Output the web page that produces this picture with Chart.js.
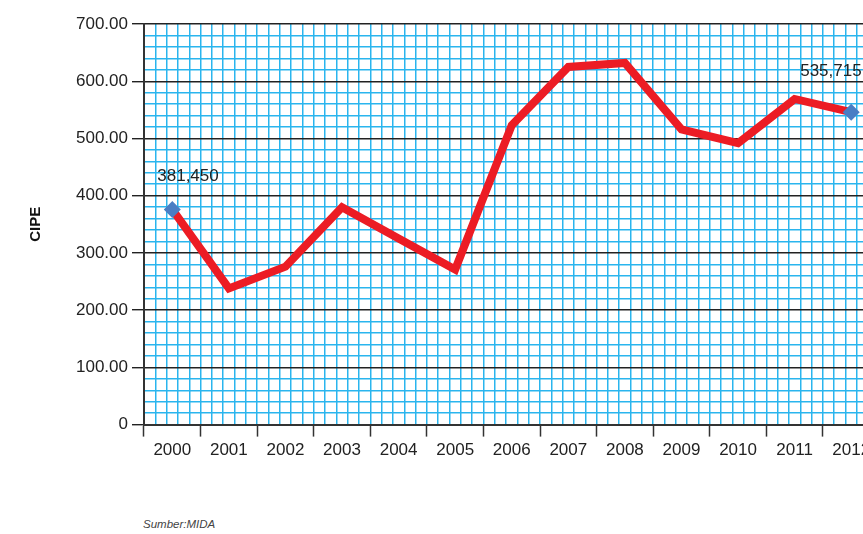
<!DOCTYPE html>
<html lang="ms">
<head>
  <meta charset="UTF-8">
  <title>CIPE 2000-2012</title>
  <script src="https://cdn.jsdelivr.net/npm/chart.js"></script>
  <style>
    html, body { margin: 0; padding: 0; background: #fff; overflow: hidden; }
    .wrap { position: relative; width: 863px; height: 534px; overflow: hidden; }
    .box { position: absolute; left: 0; top: 0; width: 888px; height: 465px; }
    .source {
      position: absolute; left: 143px; top: 518px;
      font-family: "Liberation Sans", Arial, sans-serif; font-style: italic;
      font-size: 11.5px; color: #444;
    }
  </style>
</head>
<body>
  <div class="wrap">
    <div class="box"><canvas id="cipeChart" width="888" height="465"></canvas></div>
    <div class="source">Sumber:MIDA</div>
  </div>

  <script>
    const years = ['2000', '2001', '2002', '2003', '2004', '2005', '2006',
                   '2007', '2008', '2009', '2010', '2011', '2012'];
    const cipe = [376, 238, 276, 380, 325, 271, 523, 625, 632, 516, 492, 569, 546];
    const yTicks = [0, 100, 200, 300, 400, 500, 600, 700];
    const pointLabels = ['381,450', '', '', '', '', '', '', '', '', '', '', '', '535,715'];

    const fontName = '"Liberation Sans", Arial, sans-serif';
    const cyan = '#2ab5ee';

    // text next to the first and last points
    const labelPlugin = {
      id: 'pointLabels',
      afterDatasetsDraw(chart) {
        const ctx = chart.ctx;
        const meta = chart.getDatasetMeta(0);
        ctx.save();
        ctx.font = '17px ' + fontName;
        ctx.fillStyle = '#222';
        ctx.textBaseline = 'alphabetic';
        pointLabels.forEach((txt, i) => {
          if (!txt) return;
          const p = meta.data[i];
          if (i === 0) ctx.fillText(txt, p.x - 15, p.y - 28);
          else ctx.fillText(txt, p.x - 51, p.y - 36);
        });
        ctx.restore();
      }
    };

    const ctx = document.getElementById('cipeChart').getContext('2d');
    new Chart(ctx, {
      type: 'line',
      data: {
        labels: years,
        datasets: [{
          data: cipe,
          borderColor: '#ec1c24',
          borderWidth: 8,
          borderJoinStyle: 'miter',
          tension: 0,
          pointStyle: 'rectRot',
          pointRadius: cipe.map((v, i) => (i === 0 || i === cipe.length - 1) ? 8.5 : 0),
          pointBackgroundColor: '#4a7ec4',
          pointBorderWidth: 0,
          xAxisID: 'x',
          yAxisID: 'y'
        }]
      },
      options: {
        responsive: false,
        animation: false,
        layout: { padding: { top: 24, left: 27, right: 8, bottom: 0 } },
        plugins: {
          legend: { display: false },
          tooltip: { enabled: false }
        },
        scales: {
          x: {
            type: 'category',
            offset: true,
            grid: {
              offset: true,
              drawOnChartArea: false,
              tickLength: 12,
              tickColor: '#333',
              tickWidth: 1.5
            },
            border: { color: '#333', width: 2 },
            ticks: {
              color: '#222',
              font: { family: fontName, size: 17 },
              padding: 4
            }
          },
          xg: {
            type: 'linear',
            position: 'top',
            min: 0,
            max: years.length * 5,
            ticks: { display: false, stepSize: 1 },
            grid: { color: cyan, lineWidth: 1.5, drawTicks: false },
            border: { display: false }
          },
          y: {
            min: 0,
            max: 700,
            title: {
              display: true,
              text: 'CIPE',
              color: '#111',
              font: { family: fontName, size: 15, weight: 'bold' },
              padding: { top: 0, bottom: 27 }
            },
            afterBuildTicks(scale) {
              const t = [];
              for (let v = 0; v <= 700; v += 20) t.push({ value: v });
              scale.ticks = t;
            },
            ticks: {
              color: '#222',
              font: { family: fontName, size: 17 },
              padding: 4,
              autoSkip: false,
              callback(v) {
                if (!yTicks.includes(v)) return '';
                return v === 0 ? '0' : v.toFixed(2);
              }
            },
            grid: {
              color: c => (c.tick && c.tick.value % 100 === 0) ? '#222' : cyan,
              lineWidth: c => (c.tick && c.tick.value % 100 === 0) ? 1.4 : 1.5,
              tickLength: 12,
              tickColor: c => (c.tick && c.tick.value % 100 === 0) ? '#222' : 'rgba(0,0,0,0)'
            },
            border: { color: '#333', width: 2 }
          }
        }
      },
      plugins: [labelPlugin]
    });
  </script>
</body>
</html>
